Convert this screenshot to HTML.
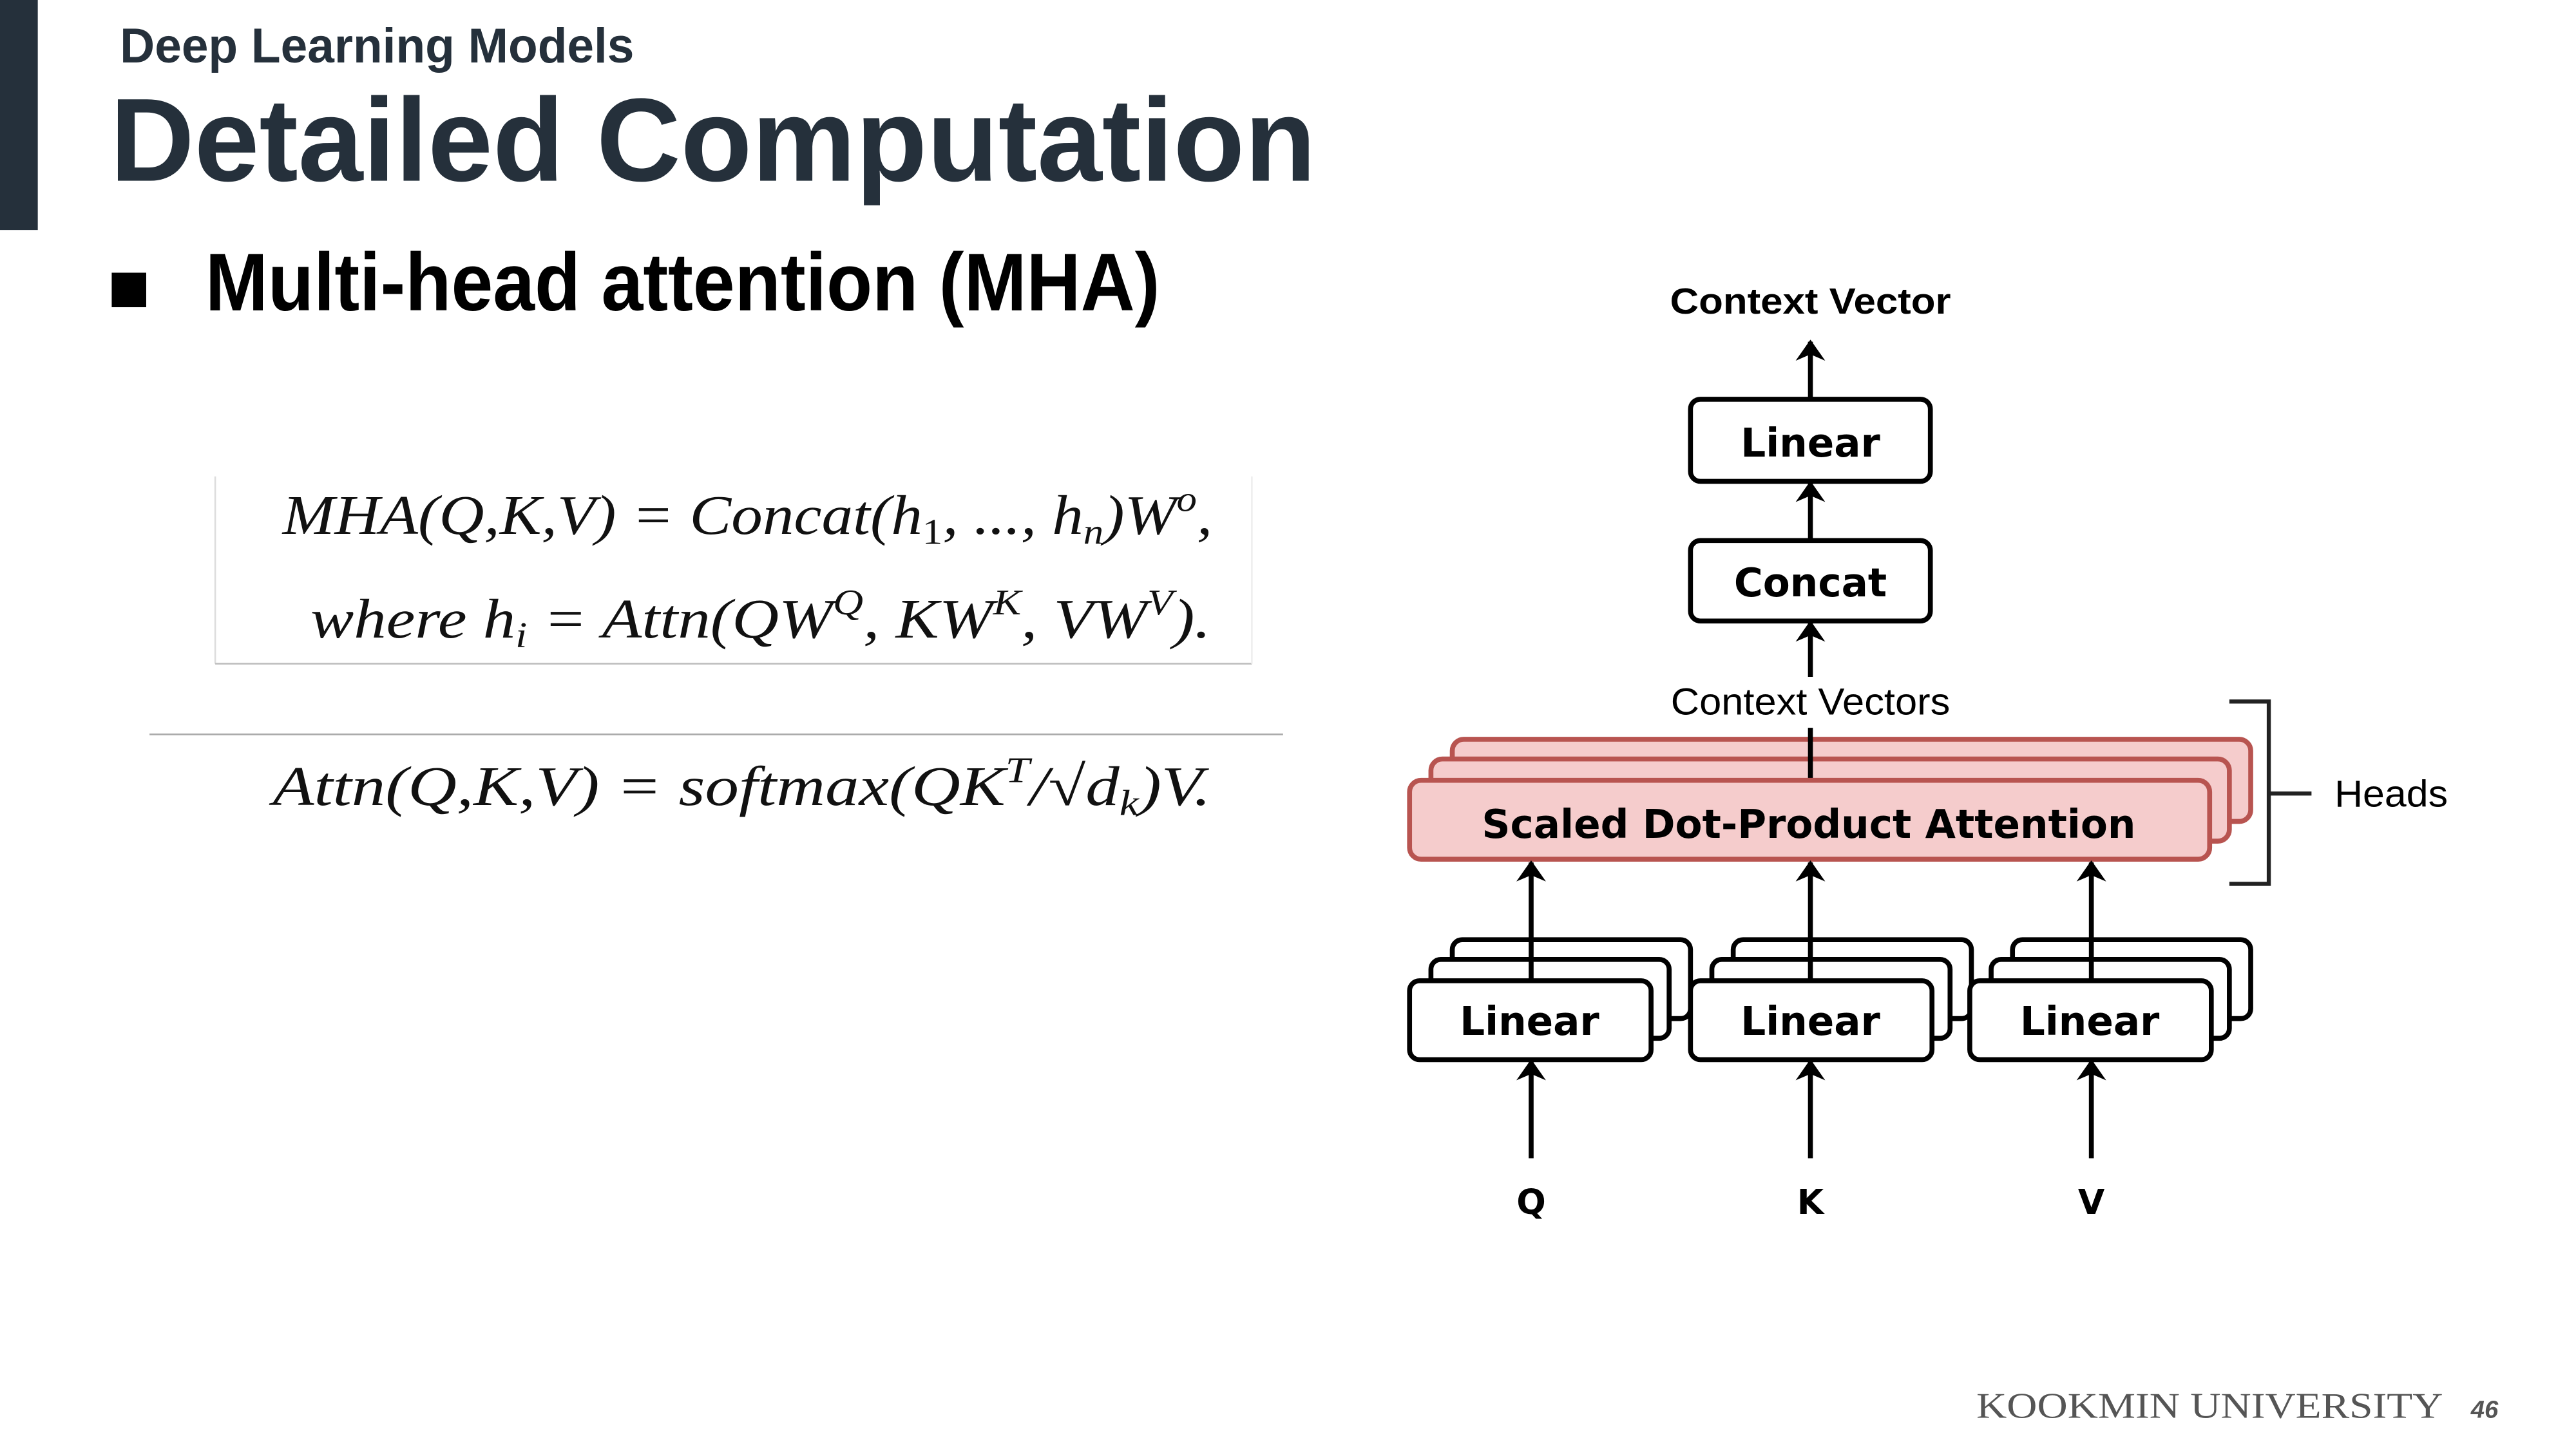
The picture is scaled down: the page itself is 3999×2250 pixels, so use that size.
<!DOCTYPE html>
<html><head><meta charset="utf-8"><style>
html,body{margin:0;padding:0;background:#fff;}
svg{display:block;}
</style></head><body>
<svg width="3999" height="2250" viewBox="0 0 1568 882" preserveAspectRatio="none" xmlns="http://www.w3.org/2000/svg">
<defs>
<marker id="ah" viewBox="0 0 10 14" refX="9" refY="7" markerWidth="14" markerHeight="18" orient="auto-start-reverse" markerUnits="userSpaceOnUse">
<path d="M0,0 L10,7 L0,14 L3,7 z" fill="#000"/>
</marker>
</defs>
<rect x="0" y="0" width="1568" height="882" fill="#fff"/>
<rect x="0" y="0" width="23" height="140" fill="#25303b"/>
<text x="73" y="38" font-family="Liberation Sans, sans-serif" font-weight="bold" font-size="30" fill="#25303b" textLength="313" lengthAdjust="spacingAndGlyphs">Deep Learning Models</text>
<text x="67" y="110" font-family="Liberation Sans, sans-serif" font-weight="bold" font-size="72" fill="#25303b" textLength="734" lengthAdjust="spacingAndGlyphs">Detailed Computation</text>
<rect x="68" y="166" width="21" height="21" fill="#000"/>
<text x="125" y="189" font-family="Liberation Sans, sans-serif" font-weight="bold" font-size="50" fill="#000" textLength="581" lengthAdjust="spacingAndGlyphs">Multi-head attention (MHA)</text>

<!-- equations -->
<line x1="131" y1="290" x2="131" y2="404" stroke="#ddd" stroke-width="1"/>
<line x1="131" y1="404" x2="762" y2="404" stroke="#bbb" stroke-width="1"/>
<line x1="762" y1="290" x2="762" y2="404" stroke="#eee" stroke-width="1"/>
<g font-family="Liberation Serif, serif" font-style="italic" font-size="34" fill="#111">
<text x="172" y="325" textLength="566" lengthAdjust="spacingAndGlyphs">MHA(Q,K,V) = Concat(h<tspan font-size="22" dy="6" font-style="normal">1</tspan><tspan dy="-6">, ..., h</tspan><tspan font-size="22" dy="6">n</tspan><tspan dy="-6">)W</tspan><tspan font-size="22" dy="-14">o</tspan><tspan dy="14">,</tspan></text>
<text x="189" y="388" textLength="548" lengthAdjust="spacingAndGlyphs">where h<tspan font-size="22" dy="6">i</tspan><tspan dy="-6"> = Attn(QW</tspan><tspan font-size="22" dy="-14">Q</tspan><tspan dy="14">, KW</tspan><tspan font-size="22" dy="-14">K</tspan><tspan dy="14">, VW</tspan><tspan font-size="22" dy="-14">V</tspan><tspan dy="14">).</tspan></text>
<text x="166" y="490" textLength="571" lengthAdjust="spacingAndGlyphs">Attn(Q,K,V) = softmax(QK<tspan font-size="22" dy="-14">T</tspan><tspan dy="14">/√d</tspan><tspan font-size="22" dy="6">k</tspan><tspan dy="-6">)V.</tspan></text>
</g>
<line x1="91" y1="447" x2="781" y2="447" stroke="#aaa" stroke-width="1"/>

<!-- diagram -->
<g font-family="DejaVu Sans, sans-serif" fill="#000">
<text x="1102" y="191" font-family="Liberation Sans, sans-serif" font-weight="bold" font-size="22" text-anchor="middle" textLength="171" lengthAdjust="spacingAndGlyphs">Context Vector</text>
<line x1="1102" y1="242" x2="1102" y2="208" stroke="#000" stroke-width="3" marker-end="url(#ah)"/>
<rect x="1029" y="243" width="146" height="50" rx="6" fill="#fff" stroke="#000" stroke-width="3"/>
<text x="1102" y="278" font-weight="bold" font-size="24" text-anchor="middle">Linear</text>
<line x1="1102" y1="328" x2="1102" y2="294" stroke="#000" stroke-width="3" marker-end="url(#ah)"/>
<rect x="1029" y="329" width="146" height="49" rx="6" fill="#fff" stroke="#000" stroke-width="3"/>
<text x="1102" y="363" font-weight="bold" font-size="24" text-anchor="middle">Concat</text>
<line x1="1102" y1="412" x2="1102" y2="379" stroke="#000" stroke-width="3" marker-end="url(#ah)"/>
<text x="1102" y="435" font-size="23" text-anchor="middle" font-family="Liberation Sans, sans-serif" textLength="170" lengthAdjust="spacingAndGlyphs">Context Vectors</text>

<rect x="884" y="450" width="486" height="50" rx="7" fill="#f5cccc" stroke="#b85450" stroke-width="3"/>
<rect x="871" y="462" width="486" height="50" rx="7" fill="#f5cccc" stroke="#b85450" stroke-width="3"/>
<line x1="1102" y1="443" x2="1102" y2="475" stroke="#000" stroke-width="3"/>
<rect x="858" y="475" width="487" height="48" rx="7" fill="#f5cccc" stroke="#b85450" stroke-width="3"/>
<text x="1101" y="510" font-weight="bold" font-size="24" text-anchor="middle" textLength="398" lengthAdjust="spacingAndGlyphs">Scaled Dot-Product Attention</text>

<path d="M1357 427 H1381 V538 H1357 M1381 483 H1407" fill="none" stroke="#222" stroke-width="2.5"/>
<text x="1421" y="491" font-size="23" font-family="Liberation Sans, sans-serif" textLength="69" lengthAdjust="spacingAndGlyphs">Heads</text>

<g stroke="#000" stroke-width="3">
<rect x="884" y="572" width="145" height="48" rx="6" fill="#fff"/>
<rect x="871" y="584" width="145" height="48" rx="6" fill="#fff"/>
<rect x="1055" y="572" width="145" height="48" rx="6" fill="#fff"/>
<rect x="1042" y="584" width="145" height="48" rx="6" fill="#fff"/>
<rect x="1225" y="572" width="145" height="48" rx="6" fill="#fff"/>
<rect x="1212" y="584" width="145" height="48" rx="6" fill="#fff"/>
<line x1="932" y1="597" x2="932" y2="525" marker-end="url(#ah)"/>
<line x1="1102" y1="597" x2="1102" y2="525" marker-end="url(#ah)"/>
<line x1="1273" y1="597" x2="1273" y2="525" marker-end="url(#ah)"/>
<rect x="858" y="597" width="147" height="48" rx="6" fill="#fff"/>
<rect x="1029" y="597" width="147" height="48" rx="6" fill="#fff"/>
<rect x="1199" y="597" width="147" height="48" rx="6" fill="#fff"/>
<line x1="932" y1="705" x2="932" y2="646" marker-end="url(#ah)"/>
<line x1="1102" y1="705" x2="1102" y2="646" marker-end="url(#ah)"/>
<line x1="1273" y1="705" x2="1273" y2="646" marker-end="url(#ah)"/>
</g>
<text x="931" y="630" font-weight="bold" font-size="24" text-anchor="middle">Linear</text>
<text x="1102" y="630" font-weight="bold" font-size="24" text-anchor="middle">Linear</text>
<text x="1272" y="630" font-weight="bold" font-size="24" text-anchor="middle">Linear</text>
<text x="932" y="739" font-weight="bold" font-size="21" text-anchor="middle">Q</text>
<text x="1102" y="739" font-weight="bold" font-size="21" text-anchor="middle">K</text>
<text x="1273" y="739" font-weight="bold" font-size="21" text-anchor="middle">V</text>
</g>

<text x="1203" y="863" font-family="Liberation Serif, serif" font-size="22" fill="#555" textLength="284" lengthAdjust="spacingAndGlyphs">KOOKMIN UNIVERSITY</text>
<text x="1504" y="863" font-family="Liberation Sans, sans-serif" font-style="italic" font-weight="bold" font-size="15" fill="#555">46</text>
</svg>
</body></html>
